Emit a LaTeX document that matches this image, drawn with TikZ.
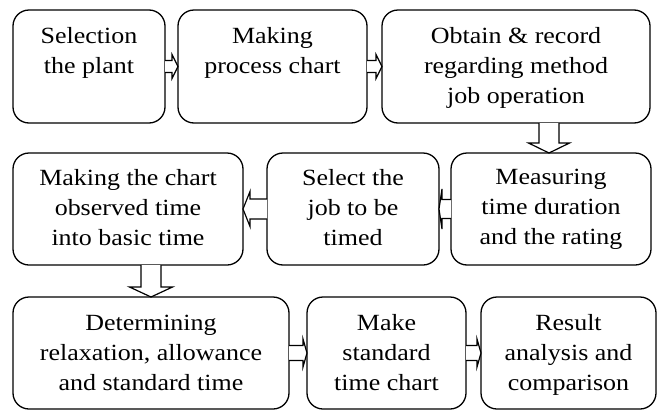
\documentclass[tikz,border=0pt]{standalone}
\usepackage{fontspec}
\setmainfont[FakeStretch=1.12]{Liberation Serif}
\usetikzlibrary{calc}
\tikzset{
  stage/.style={draw, line width=1.3pt, rounded corners=16pt, inner sep=0pt, outer sep=0pt},
  txt/.style={align=center, inner sep=0pt, anchor=north, font=\fontsize{23.2}{30}\selectfont},
  blk/.style={draw, fill=white, line width=1.2pt, line join=miter},
}
% right-pointing block arrow: from, to, shaft half, head half, head length
\newcommand\rblk[5]{%
  \draw[blk] let \p1=(#1.east), \p2=(#2.west) in
    (\x1,\y1+#3) -- (\x2-#5,\y1+#3) -- (\x2-#5,\y1+#4) -- (\x2,\y1)
    -- (\x2-#5,\y1-#4) -- (\x2-#5,\y1-#3) -- (\x1,\y1-#3);}
% left-pointing block arrow
\newcommand\lblk[5]{%
  \draw[blk] let \p1=(#1.west), \p2=(#2.east) in
    (\x1,\y1+#3) -- (\x2+#5,\y1+#3) -- (\x2+#5,\y1+#4) -- (\x2,\y1)
    -- (\x2+#5,\y1-#4) -- (\x2+#5,\y1-#3) -- (\x1,\y1-#3);}
% down-pointing block arrow: from, to, x offset, shaft half, head half, head length
\newcommand\dblk[6]{%
  \draw[blk] let \p1=(#1.south), \p2=(#2.north), \n1={\x2+#3} in
    (\n1-#4,\y1) -- (\n1-#4,\y2+#6) -- (\n1-#5,\y2+#6) -- (\n1,\y2)
    -- (\n1+#5,\y2+#6) -- (\n1+#4,\y2+#6) -- (\n1+#4,\y1);}
\begin{document}
\begin{tikzpicture}[x=1pt,y=-1pt]
\useasboundingbox (0,0) rectangle (662,410);
% boxes
\node[stage, minimum width=152pt, minimum height=113pt] (a) at (89,66.5) {};
\node[stage, minimum width=189pt, minimum height=113pt] (b) at (272.5,66.5) {};
\node[stage, minimum width=268pt, minimum height=113pt] (c) at (516,66.5) {};
\node[stage, minimum width=230pt, minimum height=112pt] (d) at (128,209) {};
\node[stage, minimum width=172pt, minimum height=112pt] (e) at (353,209) {};
\node[stage, minimum width=200pt, minimum height=112pt] (f) at (551,209) {};
\node[stage, minimum width=276pt, minimum height=112pt] (g) at (151,353) {};
\node[stage, minimum width=159pt, minimum height=112pt] (h) at (386.5,353) {};
\node[stage, minimum width=175pt, minimum height=112pt] (i) at (568.5,353) {};
% texts
\node[txt] (ta) at ($(a.north)+(0,17.2)$) {Selection\\the plant};
\node[txt] (tb) at ($(b.north)+(0,17.2)$) {Making\\process chart};
\node[txt] (tc) at ($(c.north)+(0,17.2)$) {Obtain \& record\\regarding method\\job operation};
\node[txt] (td) at ($(d.north)+(0,16.2)$) {Making the chart\\observed time\\into basic time};
\node[txt] (te) at ($(e.north)+(0,16.2)$) {Select the\\job to be\\timed};
\node[txt] (tf) at ($(f.north)+(0,16.2)$) {Measuring\\time duration\\and the rating};
\node[txt] (tg) at ($(g.north)+(0,17.7)$) {Determining\\relaxation, allowance\\and standard time};
\node[txt] (th) at ($(h.north)+(0,17.2)$) {Make\\standard\\time chart};
\node[txt] (ti) at ($(i.north)+(0,17.2)$) {Result\\analysis and\\comparison};
% block arrows
\rblk{a}{b}{6pt}{12pt}{6pt}
\rblk{b}{c}{6pt}{12pt}{6pt}
\dblk{c}{f}{-2pt}{10pt}{20.5pt}{10pt}
\lblk{f}{e}{9.5pt}{20pt}{3pt}
\lblk{e}{d}{10pt}{17.5pt}{7pt}
\dblk{d}{g}{0pt}{10pt}{21.5pt}{10pt}
\rblk{g}{h}{7.5pt}{14pt}{4pt}
\rblk{h}{i}{7.5pt}{14pt}{4pt}
\end{tikzpicture}
\end{document}
